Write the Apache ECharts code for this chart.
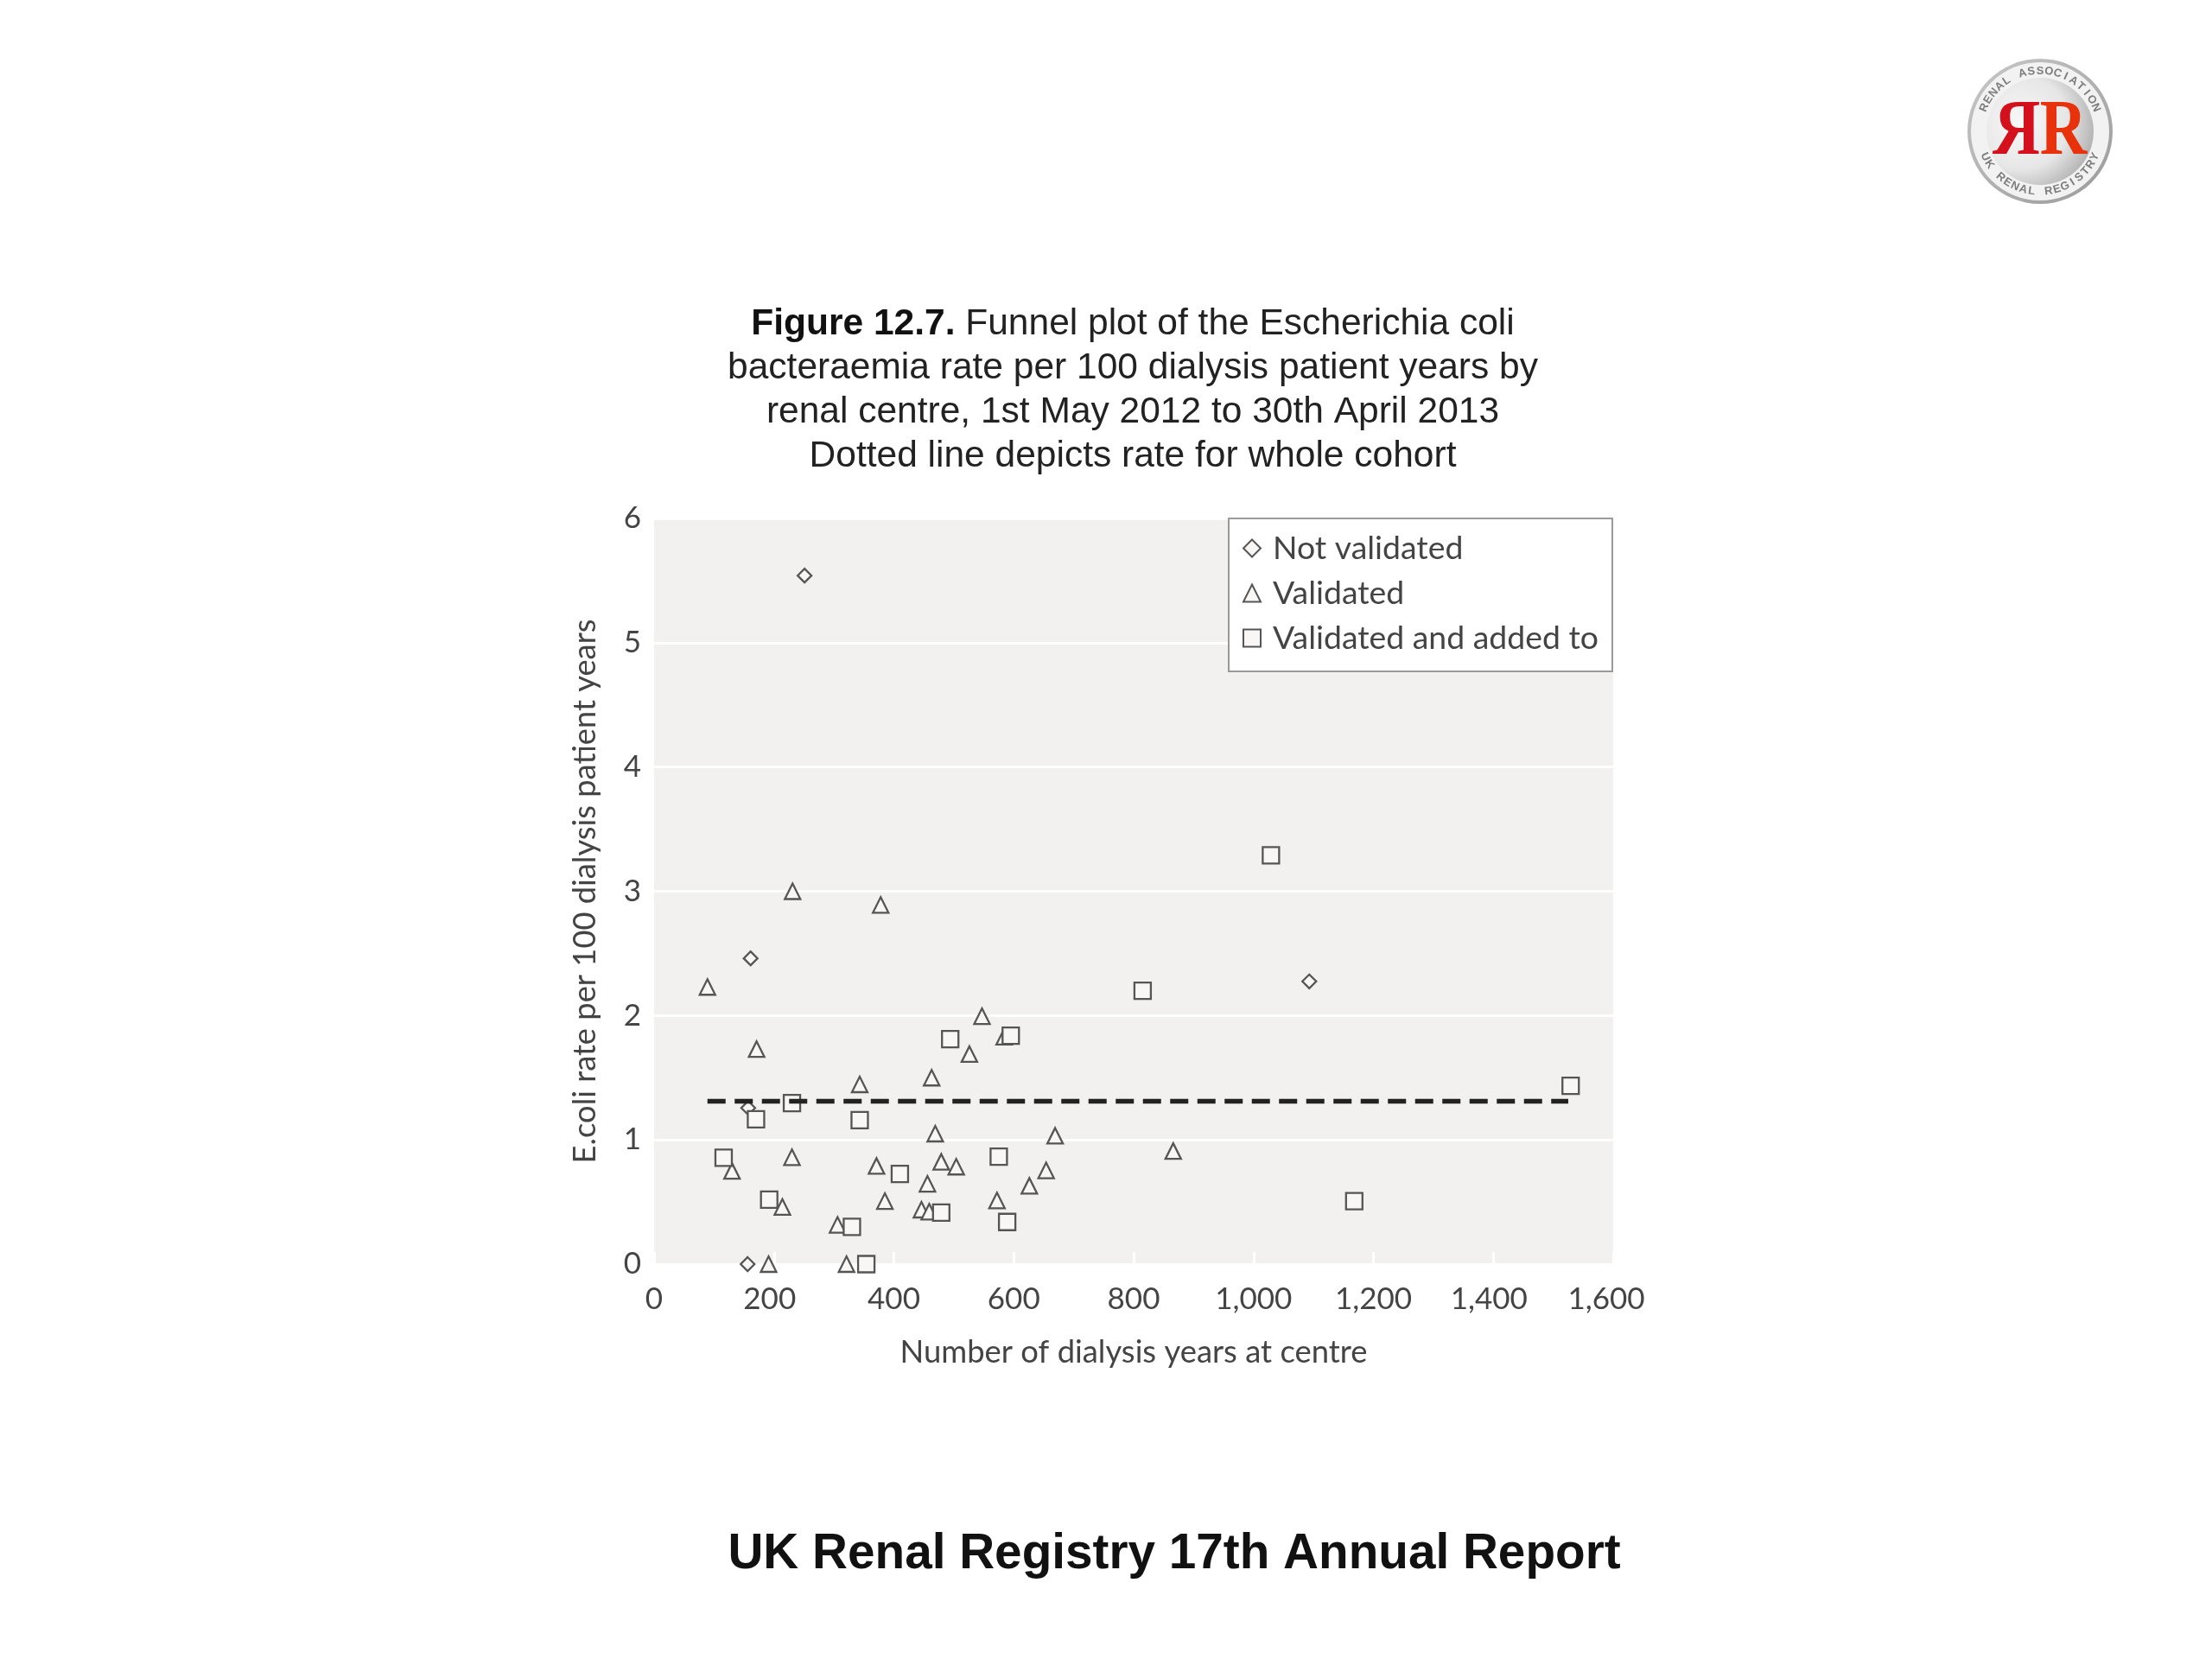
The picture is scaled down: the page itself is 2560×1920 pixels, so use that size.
<!DOCTYPE html>
<html><head><meta charset="utf-8">
<style>html,body{margin:0;padding:0;background:#fff}#c{width:2560px;height:1920px}</style>
<script src="https://cdn.jsdelivr.net/npm/echarts@6/dist/echarts.min.js"></script>
</head><body><div id="c"></div>
<script>
const notValidated = [[251,5.54],[161,2.46],[157,1.257],[156,0],[1093,2.275]];
const validated = [[89,2.23],[231,3.0],[378,2.89],[171,1.73],[547,1.995],[526,1.69],[584,1.83],[463,1.50],[343,1.446],[469,1.05],[669,1.033],[230,0.86],[130,0.75],[371,0.79],[479,0.823],[504,0.784],[456,0.646],[654,0.754],[626,0.63],[385,0.507],[572,0.512],[214,0.46],[446,0.438],[459,0.422],[306,0.316],[191,0],[321,0],[866,0.91]];
const validatedAdded = [[494,1.81],[595,1.838],[230,1.296],[170,1.165],[343,1.158],[116,0.856],[575,0.865],[410,0.726],[192,0.519],[479,0.415],[330,0.30],[589,0.339],[354,0],[815,2.2],[1529,1.435],[1168,0.507],[1029,3.29]];
const cohortRate = [[89,1.31],[1525,1.31]];
const xTicks = {0:'0',200:'{a|200}',400:'400',600:'600',800:'800',1000:'1,000',1200:'1,200',1400:'{a|1,400}',1600:'{b|1,600}'};
const titleLines = ['Funnel plot of the Escherichia coli','bacteraemia rate per 100 dialysis patient years by','renal centre, 1st May 2012 to 30th April 2013','Dotted line depicts rate for whole cohort'];
const ring1 = 'RENAL ASSOCIATION', ring2 = 'UK RENAL REGISTRY';
const FONT='Lato', INK='#444', MARK='#555', FILL='#f8f7f5';
const cx=2361, cy=152;
function ring(text,a0,a1,rot){
  return text.split('').map((ch,i)=>{
    const a=(a0+(a1-a0)*i/(text.length-1))*Math.PI/180;
    return {type:'text',x:cx+70*Math.cos(a),y:cy+70*Math.sin(a),rotation:-(a+rot*Math.PI/2),z:5,
      style:{text:ch,fontSize:13,fontWeight:'bold',fontFamily:'Liberation Sans',fill:'#7d7d7d',align:'center',verticalAlign:'middle'}};
  });
}
const logo=[
 {type:'circle',shape:{cx,cy,r:84},z:1,style:{fill:new echarts.graphic.LinearGradient(0,0,1,1,[{offset:0,color:'#c8c8c8'},{offset:1,color:'#9a9a9a'}])}},
 {type:'circle',shape:{cx,cy,r:80},z:2,style:{fill:'#f2f2f2'}},
 {type:'circle',shape:{cx,cy,r:62},z:3,style:{fill:new echarts.graphic.RadialGradient(0.32,0.42,0.8,[{offset:0,color:'#f8f8f8'},{offset:0.55,color:'#e6e6e6'},{offset:1,color:'#a0a0a0'}])}},
 {type:'text',x:2334,y:154,scaleX:-0.82,z:6,originX:0,originY:0,style:{text:'R',fontFamily:'Liberation Serif',fontWeight:'bold',fontSize:92,fill:'#d4101c',align:'center',verticalAlign:'middle'}},
 {type:'text',x:2388,y:154,scaleX:0.82,z:6,style:{text:'R',fontFamily:'Liberation Serif',fontWeight:'bold',fontSize:92,fill:'#e8320c',align:'center',verticalAlign:'middle'}},
 ...ring(ring1,-157,-23,1),
 ...ring(ring2,155,25,-1)
];
const markerStyle={color:FILL,borderColor:MARK,borderWidth:2.3,opacity:1};
const chart=echarts.init(document.getElementById('c'),null,{width:2560,height:1920,renderer:'canvas',devicePixelRatio:1});
chart.setOption({
 animation:false,
 backgroundColor:'#fff',
 title:[
  {left:1306,top:345,textAlign:'center',
   text:'{b|Figure 12.7.}{r| '+titleLines[0]+'}\n{r|'+titleLines[1]+'}\n{r|'+titleLines[2]+'}\n{r|'+titleLines[3]+'}',
   textStyle:{rich:{b:{fontFamily:'Liberation Sans',fontWeight:'bold',fontSize:42.5,lineHeight:51,color:'#111'},
     r:{fontFamily:'Liberation Sans',fontWeight:'normal',fontSize:42.5,lineHeight:51,color:'#222'}}}},
  {left:1354,top:1766,textAlign:'center',text:'UK Renal Registry 17th Annual Report',
   textStyle:{fontFamily:'Liberation Sans',fontWeight:'bold',fontSize:56.7,color:'#111'}}
 ],
 grid:{left:757,top:600,width:1110,height:863,show:true,backgroundColor:'#f2f1ef',borderWidth:0},
 xAxis:{type:'value',min:0,max:1600,interval:200,name:'Number of dialysis years at centre',nameLocation:'middle',nameGap:84,
  nameTextStyle:{fontFamily:FONT,fontSize:36.4,color:INK},
  axisLine:{show:false},splitLine:{show:false},
  axisTick:{show:true,inside:true,length:14,lineStyle:{color:'#fff',width:3}},
  axisLabel:{fontFamily:FONT,fontSize:35,color:INK,margin:23,formatter:v=>xTicks[v],
   rich:{a:{fontFamily:FONT,fontSize:35,color:INK,padding:[0,10,0,0]},b:{fontFamily:FONT,fontSize:35,color:INK,padding:[0,16,0,0]}}}},
 yAxis:{type:'value',min:0,max:6,interval:1,name:'E.coli rate per 100 dialysis patient years',nameLocation:'middle',nameGap:62,
  nameTextStyle:{fontFamily:FONT,fontSize:36.3,color:INK},
  axisLine:{show:false},axisTick:{show:false},
  splitLine:{show:true,lineStyle:{color:'#fff',width:3}},
  axisLabel:{fontFamily:FONT,fontSize:35,color:INK,margin:15}},
 legend:{orient:'vertical',left:1422,top:600,padding:[16,16,20,16],itemWidth:20,itemHeight:20,itemGap:15,
  backgroundColor:'#fff',borderColor:'#999',borderWidth:2,borderRadius:0,
  data:['Not validated','Validated','Validated and added to'],
  textStyle:{fontFamily:FONT,fontSize:37.4,color:INK,lineHeight:36,padding:[0,0,0,9]}},
 series:[
  {name:'Not validated',type:'scatter',symbol:'diamond',symbolSize:16,data:notValidated,itemStyle:markerStyle},
  {name:'Whole cohort',type:'line',data:cohortRate,showSymbol:false,symbol:'none',silent:true,
   lineStyle:{color:'#222',width:5.5,type:[21,10.5]}},
  {name:'Validated',type:'scatter',symbol:'triangle',symbolSize:18,data:validated,itemStyle:markerStyle},
  {name:'Validated and added to',type:'scatter',symbol:'rect',symbolSize:19,data:validatedAdded,itemStyle:markerStyle}
 ],
 graphic:logo
});
</script></body></html>
